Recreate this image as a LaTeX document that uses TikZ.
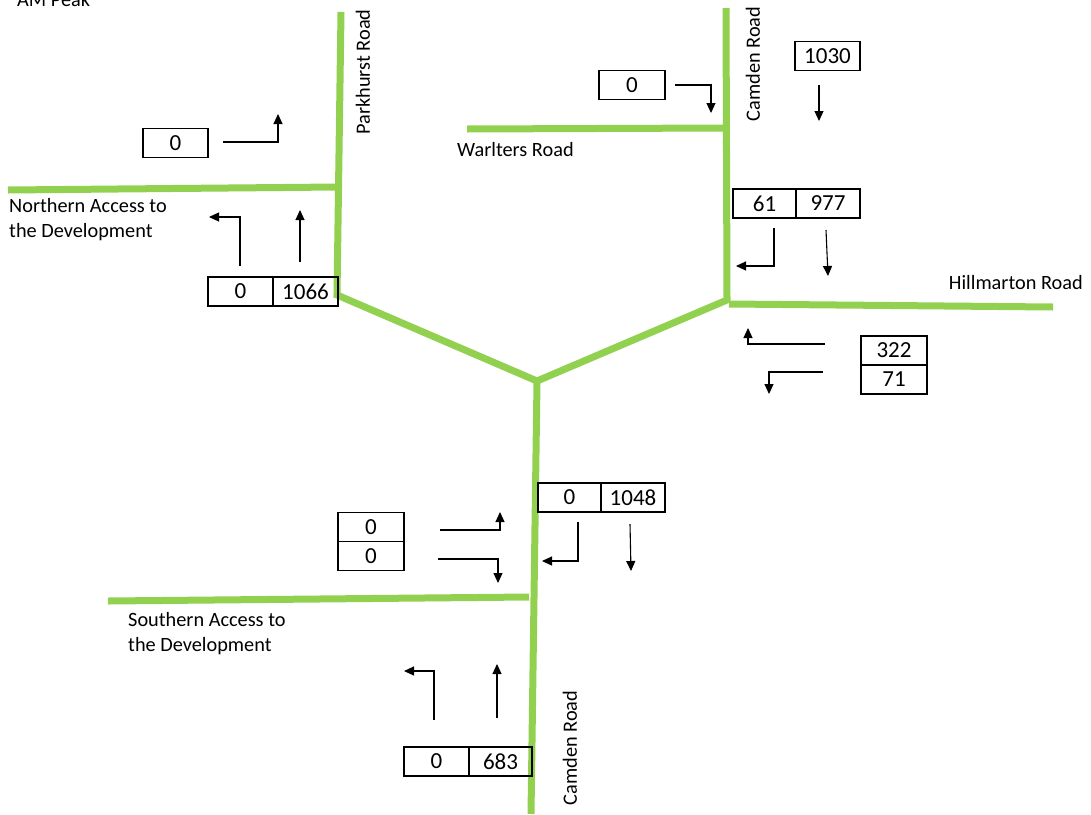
\documentclass[tikz,border=0pt]{standalone}
\usepackage{fontspec}
\setmainfont{Carlito}
\usetikzlibrary{arrows.meta}
\definecolor{road}{HTML}{92D050}
\tikzset{
  roadline/.style={draw=road, line width=7pt, line join=miter},
  box/.style={draw=black, line width=1.8pt, inner sep=0pt, minimum height=29pt, font=\fontsize{23}{24}\selectfont},
  flow/.style={draw=black, line width=1.1pt, -{Triangle[length=10pt,width=9pt]}},
  lbl/.style={font=\fontsize{20.3}{25}\selectfont, inner sep=0pt, align=left},
}
\begin{document}
\begin{tikzpicture}[x=1pt,y=-1pt]
\useasboundingbox (0,0) rectangle (1091,814);
% roads
\coordinate (pk) at (341,12);
\coordinate (j1) at (337,295);
\coordinate (jc) at (537,381);
\coordinate (j2) at (727,300);
\coordinate (cn) at (726,8);
\draw[roadline] (pk) -- (j1) -- (jc) -- (j2) -- (cn);
\draw[roadline] (jc) -- (531,814);
\draw[roadline] (8,190) -- (338,187);
\draw[roadline] (467,129) -- (726,128);
\draw[roadline] (729,304) -- (1053,307);
\draw[roadline] (108,601) -- (529,597);
% labels
\node[lbl, anchor=south west] (am) at (17,7) {AM Peak};
\node[lbl, rotate=90] (pr) at (363,72) {Parkhurst Road};
\node[lbl, rotate=90] (cr1) at (753,64) {Camden Road};
\node[lbl, anchor=west] (wr) at (457,150) {Warlters Road};
\node[lbl, anchor=north west] (na) at (9,198) {Northern Access to\\the Development};
\node[lbl, anchor=east] (hr) at (1083,283) {Hillmarton Road};
\node[lbl, anchor=north west] (sa) at (128,612) {Southern Access to\\the Development};
\node[lbl, rotate=90] (cr2) at (570,748) {Camden Road};
% boxes
\node[box, minimum width=65pt] (b1) at (175.5,143) {0};
\node[box, minimum width=65pt] (b2a) at (240.5,291.5) {0};
\node[box, minimum width=65pt] (b2b) at (305.5,291.5) {1066};
\node[box, minimum width=66pt] (b3) at (632,85) {0};
\node[box, minimum width=65pt] (b4) at (827.5,56) {1030};
\node[box, minimum width=63pt] (b5a) at (764.5,203.5) {61};
\node[box, minimum width=64pt] (b5b) at (828,203.5) {977};
\node[box, minimum width=66pt] (b6a) at (894,350.5) {322};
\node[box, minimum width=66pt] (b6b) at (894,379.5) {71};
\node[box, minimum width=66pt] (b7a) at (371,527) {0};
\node[box, minimum width=66pt] (b7b) at (371,556) {0};
\node[box, minimum width=63pt] (b8a) at (569.5,497.5) {0};
\node[box, minimum width=64pt] (b8b) at (633,497.5) {1048};
\node[box, minimum width=65pt] (b9a) at (436.5,761.5) {0};
\node[box, minimum width=63pt] (b9b) at (500.5,761.5) {683};
% flows
\draw[flow] (223,142) -- (278,142) -- (278,114);
\draw[flow] (240,266) -- (240,217) -- (209,217);
\draw[flow] (300,262) -- (300,210);
\draw[flow] (675,85) -- (711,85) -- (711,113);
\draw[flow] (819,85) -- (819,121);
\draw[flow] (774,228) -- (774,266) -- (736,266);
\draw[flow] (826,230) -- (828,276);
\draw[flow] (825,344) -- (748,344) -- (748,328);
\draw[flow] (823,372) -- (769,372) -- (769,394);
\draw[flow] (440,530) -- (500,530) -- (500,512);
\draw[flow] (438,559) -- (498,559) -- (498,583);
\draw[flow] (578,522) -- (578,561) -- (542,561);
\draw[flow] (630,524) -- (631,571);
\draw[flow] (434,720) -- (434,671) -- (404,671);
\draw[flow] (497,718) -- (497,664);
\end{tikzpicture}
\end{document}
